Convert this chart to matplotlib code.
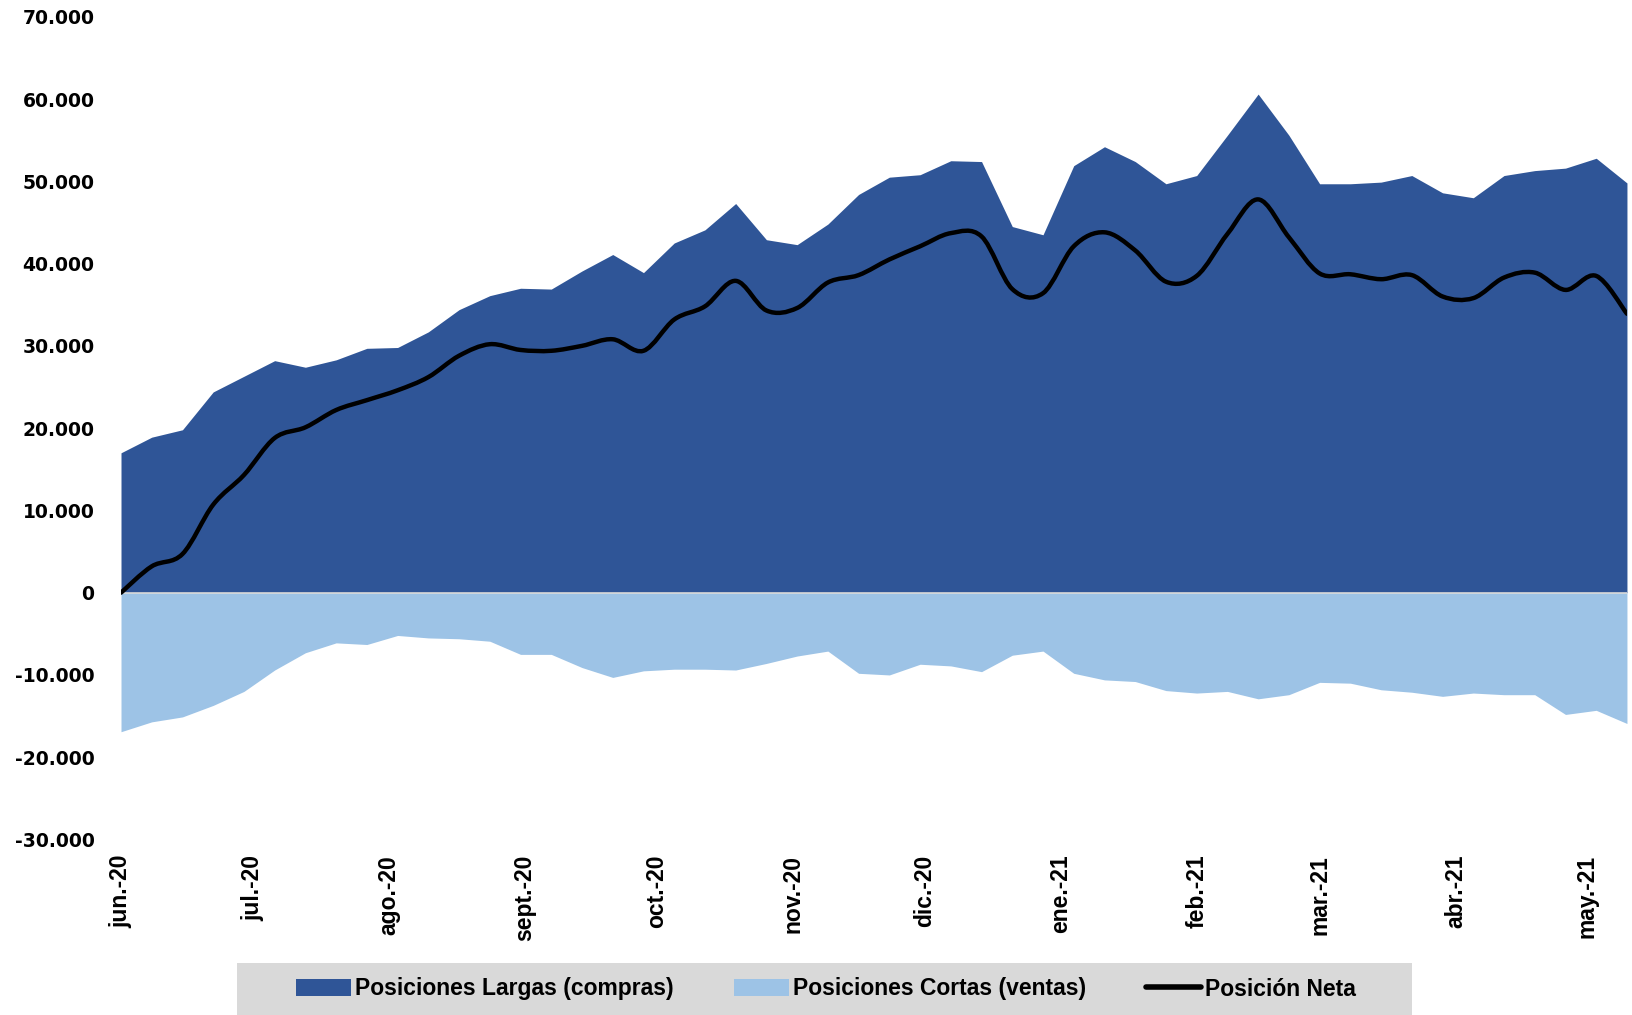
import numpy as np
import pandas as pd
import matplotlib
matplotlib.use("Agg")
import matplotlib.pyplot as plt
import matplotlib.dates as mdates
from matplotlib.path import Path
from matplotlib.patches import PathPatch, Rectangle
from matplotlib.lines import Line2D
from matplotlib.ticker import FuncFormatter

# Weekly data (contracts)
start_date = "2020-06-02"
n_weeks = 50

largas = [17000, 18900, 19800, 24400, 26300, 28200, 27400, 28300, 29700, 29800,
          31700, 34400, 36100, 37000, 36900, 39100, 41100, 38900, 42500, 44100,
          47300, 42900, 42300, 44800, 48400, 50500, 50800, 52500, 52400, 44500,
          43500, 51900, 54200, 52400, 49700, 50700, 55600, 60600, 55600, 49700,
          49700, 49900, 50700, 48600, 48000, 50700, 51300, 51600, 52800, 49800]

cortas = [-16900, -15700, -15100, -13700, -12000, -9400, -7300, -6100, -6300, -5200,
          -5500, -5600, -5900, -7500, -7500, -9100, -10300, -9500, -9300, -9300,
          -9400, -8600, -7700, -7100, -9800, -10000, -8700, -8900, -9600, -7600,
          -7100, -9800, -10600, -10800, -11900, -12200, -12000, -12900, -12400, -10900,
          -11000, -11800, -12100, -12600, -12200, -12400, -12400, -14800, -14300, -15900]

neta = [0, 3200, 4700, 10700, 14300, 18800, 20100, 22200, 23400, 24600,
        26200, 28800, 30200, 29500, 29400, 30000, 30800, 29400, 33200, 34800,
        37900, 34300, 34600, 37700, 38600, 40500, 42100, 43700, 43300, 36900,
        36400, 42100, 43800, 41600, 37800, 38500, 43600, 47800, 43200, 38800,
        38700, 38100, 38600, 36000, 35800, 38300, 38900, 36800, 38500, 33900]

month_labels = ["jun.-20", "jul.-20", "ago.-20", "sept.-20", "oct.-20", "nov.-20",
                "dic.-20", "ene.-21", "feb.-21", "mar.-21", "abr.-21", "may.-21"]

dates = pd.date_range(start_date, periods=n_weeks, freq="7D")
x = mdates.date2num(dates.to_pydatetime())

c_dark = "#2F5597"
c_light = "#9DC3E6"

fig = plt.figure(figsize=(16.33, 10.15), dpi=100)
ax = fig.add_axes([0.0741, 0.1729, 0.9222, 0.8106])

ax.fill_between(x, 0, largas, color=c_dark, lw=0, zorder=2)
ax.fill_between(x, 0, cortas, color=c_light, lw=0, zorder=2)
ax.axhline(0, color="#d9d9d9", lw=1.2, zorder=3)


# smoothed net line (Excel style bezier through the points)
def smooth_path(xs, ys):
    pts = np.column_stack([xs, ys])
    verts = [pts[0]]
    codes = [Path.MOVETO]
    n = len(pts)
    for i in range(n - 1):
        p0 = pts[i - 1] if i > 0 else pts[i]
        p1 = pts[i]
        p2 = pts[i + 1]
        p3 = pts[i + 2] if i + 2 < n else pts[i + 1]
        c1 = p1 + (p2 - p0) / 6.0
        c2 = p2 - (p3 - p1) / 6.0
        verts += [c1, c2, p2]
        codes += [Path.CURVE4] * 3
    return Path(verts, codes)


net_patch = PathPatch(smooth_path(x, np.array(neta, dtype=float)), facecolor="none",
                      edgecolor="black", lw=3.2, capstyle="round", joinstyle="round",
                      zorder=4)
ax.add_patch(net_patch)

# monthly ticks, one per month starting at the first week
tick_dates = pd.date_range("2020-06-01", periods=len(month_labels), freq="MS") + pd.Timedelta(days=1)
ax.set_xticks(mdates.date2num(tick_dates.to_pydatetime()))
ax.set_xticklabels(month_labels, rotation=90, fontsize=16.5, fontweight="bold",
                   family=["Liberation Sans", "DejaVu Sans"])
ax.set_xlim(x[0], x[-1])

ax.set_ylim(-30000, 70000)
ax.set_yticks(np.arange(-30000, 70001, 10000))
ax.yaxis.set_major_formatter(FuncFormatter(lambda v, p: f"{int(v):,}".replace(",", ".")))
for lab in ax.get_yticklabels():
    lab.set_fontweight("bold")
    lab.set_fontsize(13.5)
    lab.set_family("DejaVu Sans")

ax.tick_params(axis="both", length=0)
ax.tick_params(axis="y", pad=19)
ax.tick_params(axis="x", pad=11)
for s in ax.spines.values():
    s.set_visible(False)
ax.patch.set_visible(False)

# legend area
fig.patches.append(Rectangle((237 / 1633, 0), (1412 - 237) / 1633, 52 / 1015,
                             transform=fig.transFigure, facecolor="#d9d9d9",
                             edgecolor="none", zorder=0))
handles = [
    Rectangle((0, 0), 1, 1, facecolor=c_dark, edgecolor="none"),
    Rectangle((0, 0), 1, 1, facecolor=c_light, edgecolor="none"),
    Line2D([0], [0], color="black", lw=4, solid_capstyle="round"),
]
labels = ["Posiciones Largas (compras)", "Posiciones Cortas (ventas)", "Posición Neta"]
fig.legend(handles, labels, loc="center", bbox_to_anchor=(826 / 1633, 26 / 1015),
           ncol=3, frameon=False, handlelength=2.4, handleheight=0.75,
           handletextpad=0.2, columnspacing=2.6,
           prop={"family": ["Liberation Sans", "DejaVu Sans"],
                 "weight": "bold", "size": 16.5})

fig.savefig("out.png", dpi=100)
